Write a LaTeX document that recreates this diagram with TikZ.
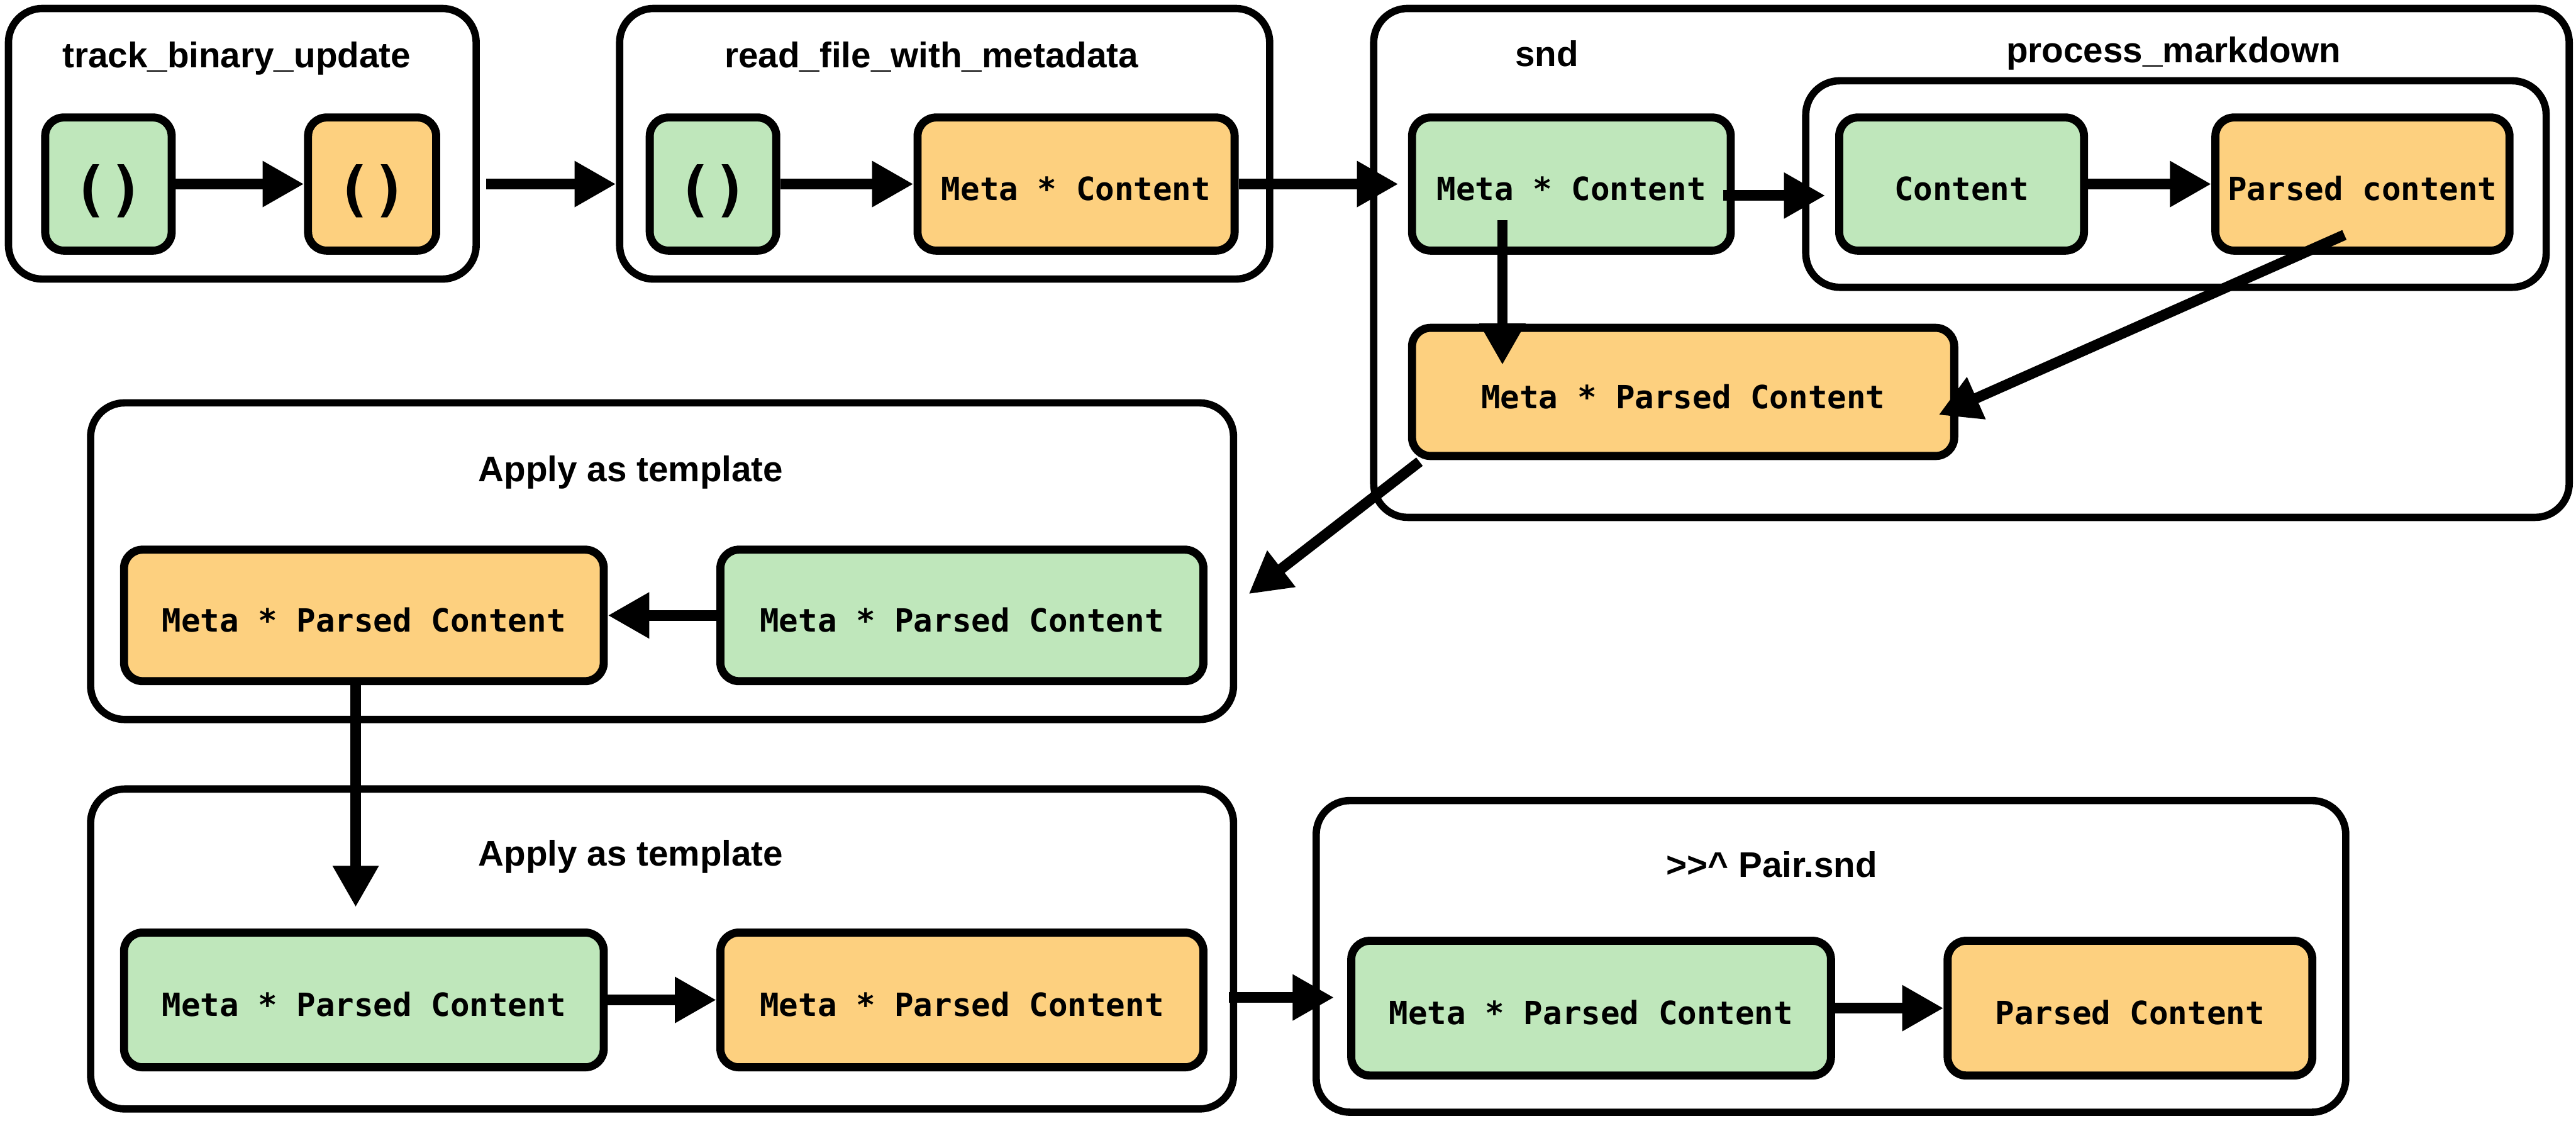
\documentclass[tikz,border=0pt]{standalone}
\usepackage{fontspec}
\setmainfont{Liberation Sans}
\setmonofont{DejaVu Sans Mono}
\usetikzlibrary{positioning,arrows.meta}
\definecolor{inclr}{HTML}{BFE7BB}
\definecolor{outclr}{HTML}{FDD07F}

\begin{document}
\begin{tikzpicture}[x=0.03cm,y=-0.03cm,
    frame/.style={draw=black,line width=3.8pt,rounded corners=0.62cm},
    title/.style={anchor=base,font=\fontsize{18.5}{22}\selectfont\bfseries},
    val/.style={draw=black,line width=4.2pt,rounded corners=0.34cm,minimum height=2.43cm,inner sep=0pt,text height=17.1pt,text depth=0pt,font=\fontsize{16.6}{20}\selectfont\ttfamily\bfseries},
    inval/.style={val,fill=inclr},
    outval/.style={val,fill=outclr},
    unitval/.style={text height=28pt,text depth=1.5pt,font=\fontsize{31}{36}\selectfont\ttfamily\bfseries},
    arr/.style={line width=5.5pt,-{Triangle[length=21.5pt,width=22.5pt]}}]
  \useasboundingbox (0,0) rectangle (1568,682);

  % track_binary_update
  \node[frame,minimum width=8.54cm,minimum height=4.94cm](track) at (147.5,87.5){};
  \node[title](tracklbl) at (144,41){track\_binary\_update};
  \node[inval,unitval,minimum width=2.31cm](t1) at (66,112){()};
  \node[outval,unitval,minimum width=2.34cm](t2) at (226.5,112){()};

  % read_file_with_metadata
  \node[frame,minimum width=11.87cm,minimum height=4.94cm](read) at (575,87.5){};
  \node[title](readlbl) at (567,41){read\_file\_with\_metadata};
  \node[inval,unitval,minimum width=2.31cm](r1) at (434,112){()};
  \node[outval,minimum width=5.79cm](r2) at (655,112){Meta * Content};

  % snd
  \node[frame,minimum width=21.83cm,minimum height=9.29cm](snd) at (1200,160){};
  \node[title](sndlbl) at (941.5,40.5){snd};
  \node[inval,minimum width=5.82cm](s1) at (956.5,112){Meta * Content};
  \node[frame,minimum width=13.52cm,minimum height=3.77cm](md) at (1324.5,112){};
  \node[title](mdlbl) at (1323,38){process\_markdown};
  \node[inval,minimum width=4.47cm](p1) at (1194,112){Content};
  \node[outval,minimum width=5.37cm](p2) at (1438,112){Parsed content};
  \node[outval,minimum width=9.9cm,minimum height=2.34cm](s2) at (1024.5,238.5){Meta * Parsed Content};

  % first template
  \node[frame,minimum width=20.87cm,minimum height=5.78cm](tmplA) at (403,341.5){};
  \node[title](tmplAlbl) at (384,293){Apply as template};
  \node[outval,minimum width=8.76cm,minimum height=2.4cm](d1) at (221.5,374.5){Meta * Parsed Content};
  \node[inval,minimum width=8.82cm,minimum height=2.4cm](d2) at (585.5,374.5){Meta * Parsed Content};

  % second template
  \node[frame,minimum width=20.87cm,minimum height=5.84cm](tmplB) at (403,577.5){};
  \node[title](tmplBlbl) at (384,527){Apply as template};
  \node[inval,minimum width=8.76cm,minimum height=2.46cm](e1) at (221.5,608.5){Meta * Parsed Content};
  \node[outval,minimum width=8.82cm,minimum height=2.46cm](e2) at (585.5,608.5){Meta * Parsed Content};

  % >>^ Pair.snd
  \node[frame,minimum width=18.8cm,minimum height=5.69cm](pair) at (1114.5,582){};
  \node[title](pairlbl) at (1078.5,534){>{}>\textasciicircum{} Pair.snd};
  \node[inval,minimum width=8.76cm,minimum height=2.46cm](f1) at (968.5,613.5){Meta * Parsed Content};
  \node[outval,minimum width=6.66cm,minimum height=2.46cm](f2) at (1296.5,613.5){Parsed Content};

  % arrows
  \draw[arr] (t1) -- (t2);
  \draw[arr] ([shift={(4,0)}]track.east |- t2.east) -- (read.west |- r1.west);
  \draw[arr] (r1) -- (r2);
  \draw[arr,shorten >=5pt] (r2.east) -- (s1.west);
  \draw[arr] ([shift={(-7,7)}]s1.east) -- ([shift={(-6,7)}]p1.west);
  \draw[arr] (p1) -- (p2);
  \draw[arr] ([shift={(-42,-21)}]s1.south) -- ([shift={(-42,25)}]s1.south |- s2.north);
  \draw[arr] ([shift={(-11,-12)}]p2.south) -- ([shift={(-12,14)}]s2.east);
  \draw[arr] ([shift={(7,1)}]s2.south west) -- ([shift={(7,20)}]tmplA.east);
  \draw[arr] (d2) -- (d1);
  \draw[arr] ([shift={(-5,0)}]d1.south) -- ([shift={(-5,-13)}]d1.south |- e1.north);
  \draw[arr] (e1) -- (e2);
  \draw[arr] ([shift={(-5,-1.5)}]tmplB.east |- e2.east) -- ([shift={(-8,-1.5)}]f1.west |- e2.east);
  \draw[arr] (f1) -- (f2);
\end{tikzpicture}
\end{document}
